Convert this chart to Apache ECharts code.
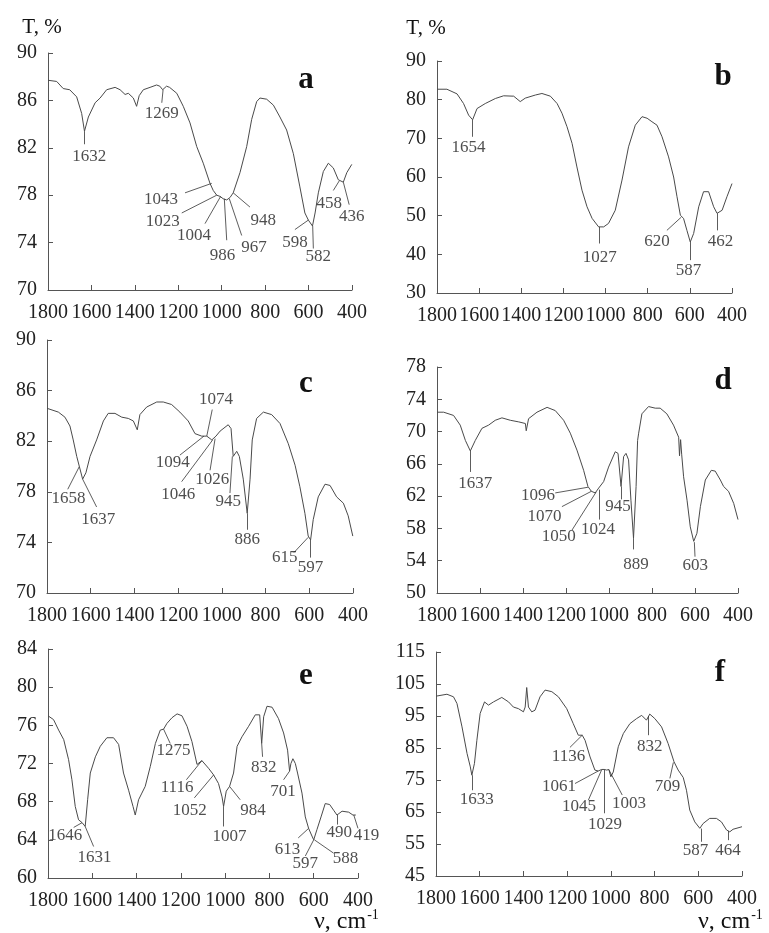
<!DOCTYPE html>
<html>
<head>
<meta charset="utf-8">
<script src="https://cdn.jsdelivr.net/npm/echarts@6/dist/echarts.min.js"></script>
<style>
html, body { margin: 0; padding: 0; background: #fff; }
#main { width: 769px; height: 933px; }
</style>
</head>
<body>
<div id="main"></div>
<script>
// IR spectra, six panels a-f. x = wavenumber (cm-1), y = transmittance T, %
var yTicksA = [70, 74, 78, 82, 86, 90];
var yTicksB = [30, 40, 50, 60, 70, 80, 90];
var yTicksC = [70, 74, 78, 82, 86, 90];
var yTicksD = [50, 54, 58, 62, 66, 70, 74, 78];
var yTicksE = [60, 64, 68, 72, 76, 80, 84];
var yTicksF = [45, 55, 65, 75, 85, 95, 105, 115];

var specA = [[1800,87.7],[1760,87.6],[1730,87.0],[1700,86.9],[1668,86.3],[1645,84.9],[1632,83.4],[1614,84.6],[1583,85.8],[1560,86.2],[1530,86.9],[1491,87.1],[1468,86.9],[1445,86.5],[1430,86.6],[1407,86.2],[1392,85.5],[1380,86.4],[1361,86.9],[1330,87.1],[1300,87.3],[1285,87.2],[1272,86.9],[1254,87.2],[1240,87.1],[1207,86.6],[1177,85.5],[1146,84.1],[1115,82.1],[1085,80.7],[1054,79.0],[1039,78.4],[1023,78.0],[1008,77.9],[993,77.7],[977,77.6],[962,77.8],[947,78.2],[916,79.9],[885,82.1],[862,84.4],[839,85.9],[824,86.2],[793,86.1],[762,85.6],[732,84.6],[701,83.5],[670,81.5],[640,78.7],[617,76.5],[601,75.9],[582,75.4],[570,76.5],[555,78.2],[532,80.0],[509,80.7],[486,80.3],[463,79.3],[440,79.1],[424,79.9],[401,80.6]];
var peaksA = [[1610,81.3,'1632'],[1276,84.9,'1269'],[1280,77.6,'1043'],[1272,75.8,'1023'],[1128,74.6,'1004'],[996,72.9,'986'],[851,73.6,'967'],[809,75.9,'948'],[663,74.0,'598'],[555,72.8,'582'],[505,77.3,'458'],[401,76.2,'436']];
var leadsA = [[[1632,83.4],[1632,82.3]],[[1270,86.9],[1276,85.8]],[[1046,79.0],[1169,78.2]],[[1023,78.0],[1184,76.5]],[[1005,77.9],[1077,75.6]],[[988,77.7],[977,74.2]],[[965,77.7],[908,74.6]],[[947,78.2],[870,77.0]],[[601,75.9],[663,75.1]],[[581,75.4],[578,73.5]],[[459,79.2],[486,78.4]],[[440,79.1],[413,77.2]]];

var specB = [[1800,82.7],[1753,82.7],[1705,81.5],[1674,79.0],[1650,76.0],[1631,74.8],[1610,77.7],[1571,79.0],[1523,80.3],[1484,81.0],[1436,80.9],[1405,79.5],[1381,80.4],[1333,81.2],[1302,81.6],[1262,80.9],[1230,79.0],[1207,76.5],[1183,73.0],[1159,68.7],[1136,62.6],[1112,56.6],[1088,52.3],[1064,49.3],[1033,47.1],[1009,47.1],[986,48.0],[954,51.4],[922,59.2],[891,67.8],[859,73.4],[827,75.6],[803,75.2],[780,74.3],[756,73.4],[732,70.4],[701,65.2],[677,60.0],[661,54.9],[645,50.1],[630,49.3],[614,46.2],[598,43.2],[582,45.4],[558,52.3],[535,56.2],[511,56.2],[487,52.3],[471,50.6],[447,51.4],[424,54.9],[400,58.3]];
var peaksB = [[1650,67.6,'1654'],[1028,39.3,'1027'],[756,43.2,'620'],[606,35.9,'587'],[455,43.2,'462']];
var leadsB = [[[1631,74.8],[1631,70.4]],[[1028,47.1],[1028,42.8]],[[641,49.6],[709,46.2]],[[598,43.2],[598,38.5]],[[468,50.6],[468,46.2]]];

var specC = [[1800,84.6],[1748,84.3],[1718,83.9],[1695,83.2],[1680,82.1],[1664,80.8],[1652,80.0],[1637,79.0],[1622,79.5],[1603,80.8],[1573,82.1],[1542,83.6],[1520,84.2],[1489,84.2],[1458,83.9],[1428,83.8],[1405,83.6],[1387,82.9],[1375,84.1],[1344,84.7],[1298,85.1],[1268,85.1],[1230,84.9],[1192,84.3],[1154,83.6],[1123,82.6],[1092,82.4],[1069,82.4],[1046,82.1],[1027,82.4],[1008,82.8],[971,83.3],[958,83.0],[948,80.8],[932,81.2],[920,80.8],[902,79.0],[884,76.3],[871,79.0],[861,82.1],[841,83.8],[810,84.3],[772,84.1],[734,83.4],[696,81.8],[665,80.1],[643,78.4],[620,76.3],[605,74.5],[594,74.2],[582,75.8],[559,77.6],[528,78.6],[505,78.5],[475,77.6],[444,77.1],[422,76.1],[401,74.5]];
var peaksC = [[1702,77.5,'1658'],[1565,75.8,'1637'],[1027,85.3,'1074'],[1225,80.3,'1094'],[1199,77.8,'1046'],[1044,79.0,'1026'],[971,77.2,'945'],[884,74.2,'886'],[712,72.8,'615'],[594,72.0,'597']];
var leadsC = [[[1652,80.0],[1705,78.2]],[[1637,79.0],[1573,76.8]],[[1069,82.4],[1044,84.5]],[[1082,82.4],[1192,80.9]],[[1042,82.1],[1184,78.8]],[[1031,82.2],[1054,79.7]],[[952,80.8],[963,77.9]],[[884,76.3],[884,75.0]],[[605,74.4],[670,73.2]],[[594,74.2],[594,72.8]]];

var specD = [[1800,72.4],[1769,72.4],[1723,72.0],[1692,70.8],[1668,68.9],[1645,67.6],[1622,68.9],[1591,70.4],[1560,70.8],[1529,71.4],[1498,71.7],[1459,71.4],[1420,71.2],[1389,71.0],[1385,70.1],[1374,71.6],[1335,72.4],[1288,73.0],[1250,72.6],[1211,71.4],[1180,69.8],[1149,67.7],[1118,65.2],[1098,63.2],[1082,62.6],[1064,62.4],[1048,63.0],[1025,63.8],[1002,65.6],[971,67.5],[958,67.3],[944,63.2],[932,66.9],[921,67.3],[909,66.5],[898,61.5],[886,56.8],[874,63.2],[867,68.9],[862,69.8],[854,69.9],[847,72.2],[816,73.1],[785,72.9],[762,72.9],[731,72.2],[700,70.8],[676,69.3],[672,67.0],[667,69.0],[662,67.2],[653,64.4],[637,61.5],[622,58.2],[606,56.4],[591,57.4],[575,60.7],[552,64.0],[524,65.2],[506,65.1],[482,64.0],[467,63.2],[444,62.6],[420,61.1],[400,59.1]];
var peaksD = [[1622,63.6,'1637'],[1330,62.1,'1096'],[1300,59.5,'1070'],[1234,57.0,'1050'],[1051,57.9,'1024'],[958,60.7,'945'],[875,53.5,'889'],[599,53.4,'603']];
var leadsD = [[[1645,67.6],[1645,65.0]],[[1098,63.1],[1250,62.4]],[[1082,62.6],[1219,60.7]],[[1060,62.5],[1172,57.8]],[[1044,62.8],[1044,59.1]],[[944,63.2],[944,61.6]],[[886,56.8],[886,55.4]],[[603,56.3],[600,54.5]]];

var specE = [[1800,77.0],[1775,76.6],[1752,75.5],[1729,74.5],[1707,72.4],[1692,70.3],[1677,67.5],[1662,66.1],[1646,65.8],[1632,65.4],[1621,68.2],[1609,71.0],[1586,72.7],[1564,73.8],[1534,74.7],[1504,74.7],[1481,74.0],[1459,71.0],[1436,69.2],[1416,67.5],[1406,66.6],[1391,68.2],[1376,68.9],[1361,69.6],[1338,71.7],[1315,74.1],[1293,75.5],[1278,75.6],[1263,76.2],[1240,76.8],[1217,77.2],[1195,77.0],[1172,75.9],[1150,74.3],[1127,71.9],[1105,72.3],[1075,71.5],[1052,70.8],[1030,69.9],[1014,68.5],[1007,67.5],[995,69.1],[980,69.6],[962,71.0],[946,73.8],[924,74.8],[894,75.9],[864,77.1],[844,77.1],[835,74.1],[826,76.9],[811,78.0],[788,77.9],[759,76.7],[736,75.2],[718,73.4],[709,71.2],[703,72.0],[694,72.5],[683,72.0],[673,71.0],[653,68.9],[638,66.4],[623,65.2],[608,64.4],[600,64.0],[585,65.1],[567,66.4],[548,67.8],[528,67.7],[510,67.1],[495,66.6],[472,67.0],[442,66.9],[423,66.6],[410,66.6]];
var peaksE = [[1722,64.5,'1646'],[1590,62.1,'1631'],[1233,73.4,'1275'],[1217,69.5,'1116'],[1160,67.1,'1052'],[980,64.3,'1007'],[874,67.1,'984'],[826,71.6,'832'],[739,69.1,'701'],[718,63.0,'613'],[638,61.5,'597'],[457,62.0,'588'],[485,64.8,'490'],[362,64.4,'419']];
var leadsE = [[[1646,65.8],[1684,65.3]],[[1632,65.4],[1594,63.3]],[[1278,75.6],[1248,74.1]],[[1105,72.3],[1175,70.3]],[[1052,70.8],[1139,68.4]],[[1007,67.5],[1007,65.4]],[[980,69.6],[932,68.2]],[[835,74.1],[831,72.7]],[[709,71.2],[736,70.3]],[[623,65.2],[670,64.2]],[[600,64.0],[638,62.3]],[[597,64.0],[510,62.6]],[[495,66.6],[495,65.6]],[[419,66.6],[400,65.2]]];

var specF = [[1800,101.2],[1750,101.8],[1720,101.0],[1704,98.9],[1681,91.6],[1658,83.3],[1643,79.1],[1636,76.5],[1624,80.2],[1613,87.4],[1598,95.8],[1578,99.4],[1560,98.4],[1537,99.4],[1499,100.8],[1468,99.4],[1446,97.8],[1423,97.3],[1400,96.3],[1392,97.8],[1385,103.9],[1377,97.8],[1362,96.3],[1347,96.8],[1324,101.0],[1301,103.1],[1270,102.6],[1240,101.0],[1202,97.3],[1172,92.6],[1149,89.0],[1131,89.0],[1118,87.4],[1095,82.2],[1073,78.1],[1058,77.8],[1042,78.3],[1030,78.3],[1019,78.1],[1009,78.3],[1000,76.0],[989,77.5],[966,85.4],[943,89.5],[913,92.6],[882,94.2],[859,95.2],[837,93.7],[822,95.6],[799,94.2],[768,91.6],[738,86.4],[711,80.7],[692,78.1],[669,75.8],[654,71.8],[639,65.6],[616,61.9],[593,59.9],[578,61.4],[548,63.0],[517,63.0],[494,61.9],[471,59.4],[456,58.8],[441,59.6],[400,60.4]];
var peaksF = [[1613,69.0,'1633'],[1194,82.2,'1136'],[1237,72.9,'1061'],[1146,66.6,'1045'],[1027,61.2,'1029'],[917,67.5,'1003'],[822,85.6,'832'],[741,73.1,'709'],[613,52.9,'587'],[464,52.9,'464']];
var leadsF = [[[1636,76.5],[1636,71.8]],[[1131,89.0],[1187,85.2]],[[1058,77.8],[1164,73.9]],[[1042,78.2],[1103,68.7]],[[1030,78.3],[1030,64.6]],[[1009,78.2],[948,70.3]],[[830,95.0],[830,89.0]],[[714,80.5],[730,75.5]],[[588,59.8],[588,55.7]],[[463,59.1],[463,56.2]]];

var FONT = 'Liberation Serif';
var AXIS_COLOR = '#555';
var LINE_COLOR = '#4a4a4a';

var panels = [
	{ spec: specA, peaks: peaksA, leads: leadsA, yTicks: yTicksA, box: { left: 48, top: 53, width: 304, height: 237 } },
	{ spec: specB, peaks: peaksB, leads: leadsB, yTicks: yTicksB, box: { left: 437, top: 61, width: 295, height: 232 } },
	{ spec: specC, peaks: peaksC, leads: leadsC, yTicks: yTicksC, box: { left: 47, top: 340, width: 306, height: 253 } },
	{ spec: specD, peaks: peaksD, leads: leadsD, yTicks: yTicksD, box: { left: 437, top: 367, width: 301, height: 226 } },
	{ spec: specE, peaks: peaksE, leads: leadsE, yTicks: yTicksE, box: { left: 48, top: 649, width: 310, height: 229 } },
	{ spec: specF, peaks: peaksF, leads: leadsF, yTicks: yTicksF, box: { left: 436, top: 652, width: 306, height: 224 } }
];

var grids = [], xAxes = [], yAxes = [], series = [];

function plain(v) { return String(v); }

panels.forEach(function (p, i) {
	grids.push({ left: p.box.left, top: p.box.top, width: p.box.width, height: p.box.height });

	xAxes.push({
		type: 'value', gridIndex: i, min: 400, max: 1800, interval: 200, inverse: true,
		axisLine: { show: true, lineStyle: { color: AXIS_COLOR, width: 1 } },
		axisTick: { show: true, inside: true, length: 5, lineStyle: { color: AXIS_COLOR } },
		axisLabel: { show: true, fontFamily: FONT, fontSize: 20, color: '#222', margin: 13,
			showMinLabel: true, showMaxLabel: true, hideOverlap: false, formatter: plain },
		splitLine: { show: false }
	});

	var yt = p.yTicks;
	yAxes.push({
		type: 'value', gridIndex: i, min: yt[0], max: yt[yt.length - 1], interval: yt[1] - yt[0],
		axisLine: { show: true, lineStyle: { color: AXIS_COLOR, width: 1 } },
		axisTick: { show: true, inside: true, length: 5, lineStyle: { color: AXIS_COLOR }, customValues: yt },
		axisLabel: { show: true, fontFamily: FONT, fontSize: 20, color: '#222', margin: 11, customValues: yt, formatter: plain },
		splitLine: { show: false }
	});

	// spectrum line, with the peak leader lines as markLine
	series.push({
		type: 'line', xAxisIndex: i, yAxisIndex: i,
		data: p.spec, symbol: 'none', showSymbol: false,
		lineStyle: { color: LINE_COLOR, width: 1 },
		silent: true,
		markLine: {
			silent: true, symbol: ['none', 'none'], animation: false,
			label: { show: false },
			lineStyle: { color: '#333', width: 0.8, type: 'solid' },
			emphasis: { disabled: true },
			data: p.leads.map(function (l) { return [{ coord: l[0] }, { coord: l[1] }]; })
		}
	});

	// peak numbers
	series.push({
		type: 'scatter', xAxisIndex: i, yAxisIndex: i,
		data: p.peaks, symbolSize: 0, clip: false, silent: true,
		label: {
			show: true, position: 'inside', fontFamily: FONT, fontSize: 17, color: '#222',
			formatter: function (d) { return String(d.value[2]); }
		},
		z: 5
	});
});

function txt(x, y, s, size, bold, align) {
	return {
		type: 'text', x: x, y: y, silent: true,
		style: { text: s, font: (bold ? 'bold ' : '') + size + 'px "' + FONT + '"', fill: '#111', textAlign: align || 'center', textVerticalAlign: 'middle' }
	};
}

// axis unit with superscript
function unit(x, y) {
	return {
		type: 'text', x: x, y: y, silent: true,
		style: {
			text: '{n|ν, cm}{s|-1}', textAlign: 'left', textVerticalAlign: 'middle',
			rich: {
				n: { fontFamily: FONT, fontSize: 24, fill: '#111', lineHeight: 26, verticalAlign: 'bottom' },
				s: { fontFamily: FONT, fontSize: 14, fill: '#111', lineHeight: 26, verticalAlign: 'top', padding: [0, 0, 0, 1] }
			}
		}
	};
}

var graphics = [
	txt(42, 27, 'T, %', 21),
	txt(426, 28, 'T, %', 21),
	txt(306, 80, 'a', 31, true),
	txt(723, 77, 'b', 31, true),
	txt(306, 384, 'c', 31, true),
	txt(723, 381, 'd', 31, true),
	txt(306, 676, 'e', 31, true),
	txt(720, 673, 'f', 31, true),
	unit(314, 921),
	unit(698, 921)
];

var chart = echarts.init(document.getElementById('main'), null, { renderer: 'canvas' });
chart.setOption({
	animation: false,
	backgroundColor: '#fff',
	grid: grids,
	xAxis: xAxes,
	yAxis: yAxes,
	series: series,
	graphic: graphics
});
</script>
</body>
</html>
